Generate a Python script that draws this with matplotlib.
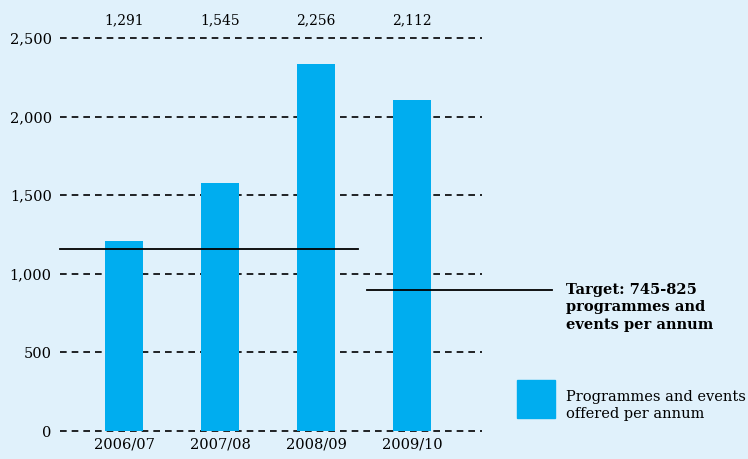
import matplotlib.pyplot as plt
import numpy as np

# data
years = ["2006/07", "2007/08", "2008/09", "2009/10"]
bar_heights = [1210, 1578, 2335, 2106]
top_labels = ["1,291", "1,545", "2,256", "2,112"]
yticks = [0, 500, 1000, 1500, 2000, 2500]
ytick_labels = ["0", "500", "1,000", "1,500", "2,000", "2,500"]
upper_line = 1158
lower_line = 897

bg = "#e0f1fb"
blue = "#00adef"

plt.rcParams["font.family"] = ["DejaVu Serif"]

fig = plt.figure(figsize=(7.48, 4.59), dpi=100, facecolor=bg)
ax = fig.add_axes([0.0802, 0.061, 0.5642, 0.856], facecolor=bg)

x = np.arange(len(years))
ax.bar(x, bar_heights, width=0.4, color=blue, zorder=2)

ax.set_xlim(-0.667, 3.73)
ax.set_ylim(0, 2500)

# dashed gridlines
for v in yticks:
    ax.axhline(v, color="black", lw=1.2, ls=(0, (4, 3)), zorder=1, clip_on=False)

# target lines
ax.plot([-0.667, 2.44], [upper_line, upper_line], color="black", lw=1.3, zorder=3, clip_on=False)
ax.plot([2.53, 4.46], [lower_line, lower_line], color="black", lw=1.3, zorder=3, clip_on=False)

ax.set_yticks(yticks)
ax.set_yticklabels(ytick_labels, fontsize=10.5)
ax.set_xticks(x)
ax.set_xticklabels(years, fontsize=10.5)
ax.tick_params(length=0, pad=6)
ax.tick_params(axis="x", pad=5)
for s in ax.spines.values():
    s.set_visible(False)

for xi, lab in zip(x, top_labels):
    ax.text(xi, 2615, lab, ha="center", va="center", fontsize=10, clip_on=False)

fig.text(566 / 748, 1 - 283 / 459, "Target: 745-825\nprogrammes and\nevents per annum",
         ha="left", va="top", fontsize=10.5, fontweight="bold", linespacing=1.3)

fig.patches.append(plt.Rectangle((517 / 748, 1 - 418 / 459), 38 / 748, 38 / 459,
                                 transform=fig.transFigure, color=blue))
fig.text(566 / 748, 1 - 390 / 459, "Programmes and events\noffered per annum",
         ha="left", va="top", fontsize=10.5, linespacing=1.3)

fig.savefig("out.png", dpi=100, facecolor=bg)
